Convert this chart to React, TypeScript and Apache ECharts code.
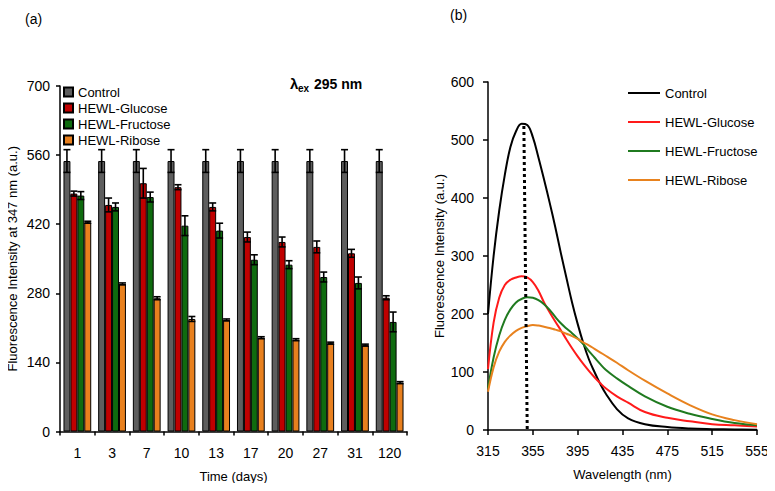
import React, { useEffect, useRef } from "react";
import * as echarts from "echarts";

// ---------- Panel (a): bar data ----------
const days = ["1", "3", "7", "10", "13", "17", "20", "27", "31", "120"];
const barNames = ["Control", "HEWL-Glucose", "HEWL-Fructose", "HEWL-Ribose"];
const controlMean = [548, 548, 548, 548, 548, 548, 548, 548, 548, 548];
const controlErr = [23, 23, 23, 23, 23, 23, 23, 23, 23, 23];
const glucoseMean = [482, 459, 503, 495, 455, 394, 384, 374, 361, 271];
const glucoseErr = [5, 14, 30, 5, 8, 10, 10, 12, 8, 4];
const fructoseMean = [478, 455, 475, 417, 407, 348, 338, 313, 301, 222];
const fructoseErr = [8, 8, 10, 20, 15, 10, 8, 10, 12, 20];
const riboseMean = [424, 299, 270, 228, 226, 190, 186, 179, 175, 99];
const riboseErr = [2, 2, 3, 5, 2, 2, 2, 2, 2, 2];
const leftTicks = [0, 140, 280, 420, 560, 700];

// ---------- Panel (b): spectra ----------
const wavelengths = [315, 320, 325, 330, 335, 340, 345, 350, 355, 360, 365, 370, 375, 380, 385, 390, 395, 400, 405, 410, 415, 420, 430, 440, 455, 475, 495, 515, 535, 555];
const controlSpec = [200, 300, 378, 440, 488, 515, 528, 526, 505, 470, 432, 392, 350, 305, 262, 220, 183, 150, 122, 100, 80, 63, 36, 20, 10, 5, 2.5, 1.5, 1, 0.5];
const glucoseSpec = [105, 185, 228, 250, 259, 263, 265, 263, 255, 240, 220, 203, 187, 172, 156, 141, 127, 114, 102, 91, 81, 72, 58, 47, 31, 21, 15, 10, 8, 6];
const fructoseSpec = [72, 125, 163, 190, 208, 220, 226, 229, 228, 224, 217, 207, 195, 184, 175, 167, 158, 148, 136, 125, 114, 104, 89, 76, 58, 40, 28, 19, 12, 8];
const riboseSpec = [66, 108, 135, 152, 163, 171, 176, 179, 181, 180, 178, 176, 173, 170, 166, 162, 157, 151, 146, 140, 134, 128, 116, 103, 85, 63, 43, 27, 17, 10];
const peakMarker = [[347, 524], [350, 0]];
const wavelengthTicks = [315, 355, 395, 435, 475, 515, 555];
const rightTicks = [0, 100, 200, 300, 400, 500, 600];

const FONT = "'Liberation Sans', Arial, sans-serif";
const barColors = ["#5e5e5e", "#c00000", "#0f6b0f", "#e8801e"];
const lineColors = ["#000000", "#ff1a1a", "#1f7a1f", "#e8821e"];

export default function App() {
  const ref = useRef<HTMLDivElement>(null);

  useEffect(() => {
    if (!ref.current) return;
    const chart = echarts.init(ref.current, null, { renderer: "svg" });

    const means = [controlMean, glucoseMean, fructoseMean, riboseMean];
    const errs = [controlErr, glucoseErr, fructoseErr, riboseErr];
    const specs = [controlSpec, glucoseSpec, fructoseSpec, riboseSpec];

    const barSeries = barNames.map((n, i) => ({
      name: n,
      type: "bar",
      xAxisIndex: 0,
      yAxisIndex: 0,
      barGap: "0%",
      barCategoryGap: "20%",
      itemStyle: { color: barColors[i], borderColor: "#000", borderWidth: 1 },
      data: means[i],
      z: 2,
    }));

    const errSeries = barNames.map((n, i) => ({
      name: "err-" + n,
      type: "custom",
      xAxisIndex: 0,
      yAxisIndex: 0,
      z: 5,
      silent: true,
      data: means[i].map((v, k) => [k, v, errs[i][k]]),
      encode: { x: 0, y: 1 },
      renderItem: (params: any, api: any) => {
        const cat = api.value(0);
        const val = api.value(1);
        const e = api.value(2);
        const c = api.coord([cat, val]);
        const band = api.size([1, 0])[0];
        const bw = (band * 0.8) / 4;
        const x = c[0] - band * 0.4 + bw * (i + 0.5);
        const yTop = api.coord([cat, val + e])[1];
        const yBot = api.coord([cat, val - e])[1];
        const cap = 3.5;
        const st = { stroke: "#000", lineWidth: 1.6 };
        return {
          type: "group",
          children: [
            { type: "line", shape: { x1: x, y1: yTop, x2: x, y2: yBot }, style: st },
            { type: "line", shape: { x1: x - cap, y1: yTop, x2: x + cap, y2: yTop }, style: st },
            { type: "line", shape: { x1: x - cap, y1: yBot, x2: x + cap, y2: yBot }, style: st },
          ],
        };
      },
    }));

    const lineSeries = barNames.map((n, i) => ({
      name: "b:" + n,
      type: "line",
      xAxisIndex: 1,
      yAxisIndex: 1,
      smooth: 0.4,
      showSymbol: false,
      symbol: "none",
      lineStyle: { color: lineColors[i], width: 2 },
      itemStyle: { color: lineColors[i] },
      data: wavelengths.map((w, k) => [w, specs[i][k]]),
      z: 3,
    }));

    const markerSeries = {
      name: "peak",
      type: "line",
      xAxisIndex: 1,
      yAxisIndex: 1,
      showSymbol: false,
      symbol: "none",
      lineStyle: { color: "#000", width: 3, type: [3, 3] },
      data: peakMarker,
      z: 4,
    };

    const axisLine = { show: true, lineStyle: { color: "#000", width: 1.5 } };
    const axisTick = { show: true, length: 4, lineStyle: { color: "#000", width: 1.5 } };

    chart.setOption({
      animation: false,
      textStyle: { fontFamily: FONT },
      grid: [
        { left: 60, top: 86, width: 347, height: 345.5 },
        { left: 488, top: 82, width: 269, height: 348 },
      ],
      xAxis: [
        {
          type: "category",
          gridIndex: 0,
          data: days,
          axisLine,
          axisTick,
          axisLabel: { color: "#000", fontSize: 14, margin: 14, fontFamily: FONT },
          splitLine: { show: false },
          name: "Time (days)",
          nameLocation: "middle",
          nameGap: 38,
          nameTextStyle: { color: "#000", fontSize: 13, fontFamily: FONT },
        },
        {
          type: "value",
          gridIndex: 1,
          min: 315,
          max: 555,
          axisLine,
          axisTick: { ...axisTick, length: 5, customValues: wavelengthTicks },
          axisLabel: { color: "#000", fontSize: 14, margin: 14, fontFamily: FONT, customValues: wavelengthTicks },
          splitLine: { show: false },
          name: "Wavelength (nm)",
          nameLocation: "middle",
          nameGap: 38,
          nameTextStyle: { color: "#000", fontSize: 13, fontFamily: FONT },
        },
      ],
      yAxis: [
        {
          type: "value",
          gridIndex: 0,
          min: leftTicks[0],
          max: leftTicks[leftTicks.length - 1],
          interval: 140,
          axisLine,
          axisTick,
          axisLabel: { color: "#000", fontSize: 14, margin: 10, fontFamily: FONT },
          splitLine: { show: false },
          name: "Fluorescence Intensity at 347 nm (a.u.)",
          nameLocation: "middle",
          nameGap: 41,
          nameTextStyle: { color: "#000", fontSize: 13, fontFamily: FONT },
        },
        {
          type: "value",
          gridIndex: 1,
          min: rightTicks[0],
          max: rightTicks[rightTicks.length - 1],
          interval: 100,
          axisLine,
          axisTick: { ...axisTick, length: 5 },
          axisLabel: { color: "#000", fontSize: 14, margin: 14, fontFamily: FONT },
          splitLine: { show: false },
          name: "Fluorescence Intensity (a.u.)",
          nameLocation: "middle",
          nameGap: 42,
          nameTextStyle: { color: "#000", fontSize: 13, fontFamily: FONT },
        },
      ],
      legend: [
        {
          data: barNames,
          orient: "vertical",
          left: 58,
          top: 80,
          icon: "rect",
          itemWidth: 9,
          itemHeight: 9,
          itemGap: 2,
          selectedMode: false,
          textStyle: { color: "#000", fontSize: 13, lineHeight: 14, fontFamily: FONT },
        },
        {
          data: barNames.map((n) => "b:" + n),
          orient: "vertical",
          left: 623,
          top: 81,
          icon: "rect",
          itemWidth: 32,
          itemHeight: 2,
          itemGap: 15,
          selectedMode: false,
          formatter: (name: string) => name.slice(2),
          textStyle: { color: "#000", fontSize: 13, lineHeight: 14, fontFamily: FONT },
        },
      ],
      graphic: [
        { type: "text", left: 25, top: 12, style: { text: "(a)", fill: "#000", font: "14px " + FONT } },
        { type: "text", left: 450, top: 8, style: { text: "(b)", fill: "#000", font: "14px " + FONT } },
        { type: "text", left: 290, top: 76, style: { text: "λ", fill: "#000", font: "bold 15px " + FONT } },
        { type: "text", left: 298, top: 83, style: { text: "ex", fill: "#000", font: "bold 10px " + FONT } },
        { type: "text", left: 314, top: 77, style: { text: "295 nm", fill: "#000", font: "bold 14px " + FONT } },
      ],
      series: [...barSeries, ...errSeries, ...lineSeries, markerSeries],
    });

    return () => chart.dispose();
  }, []);

  return <div ref={ref} style={{ width: 775, height: 491, margin: -8 }} />;
}
